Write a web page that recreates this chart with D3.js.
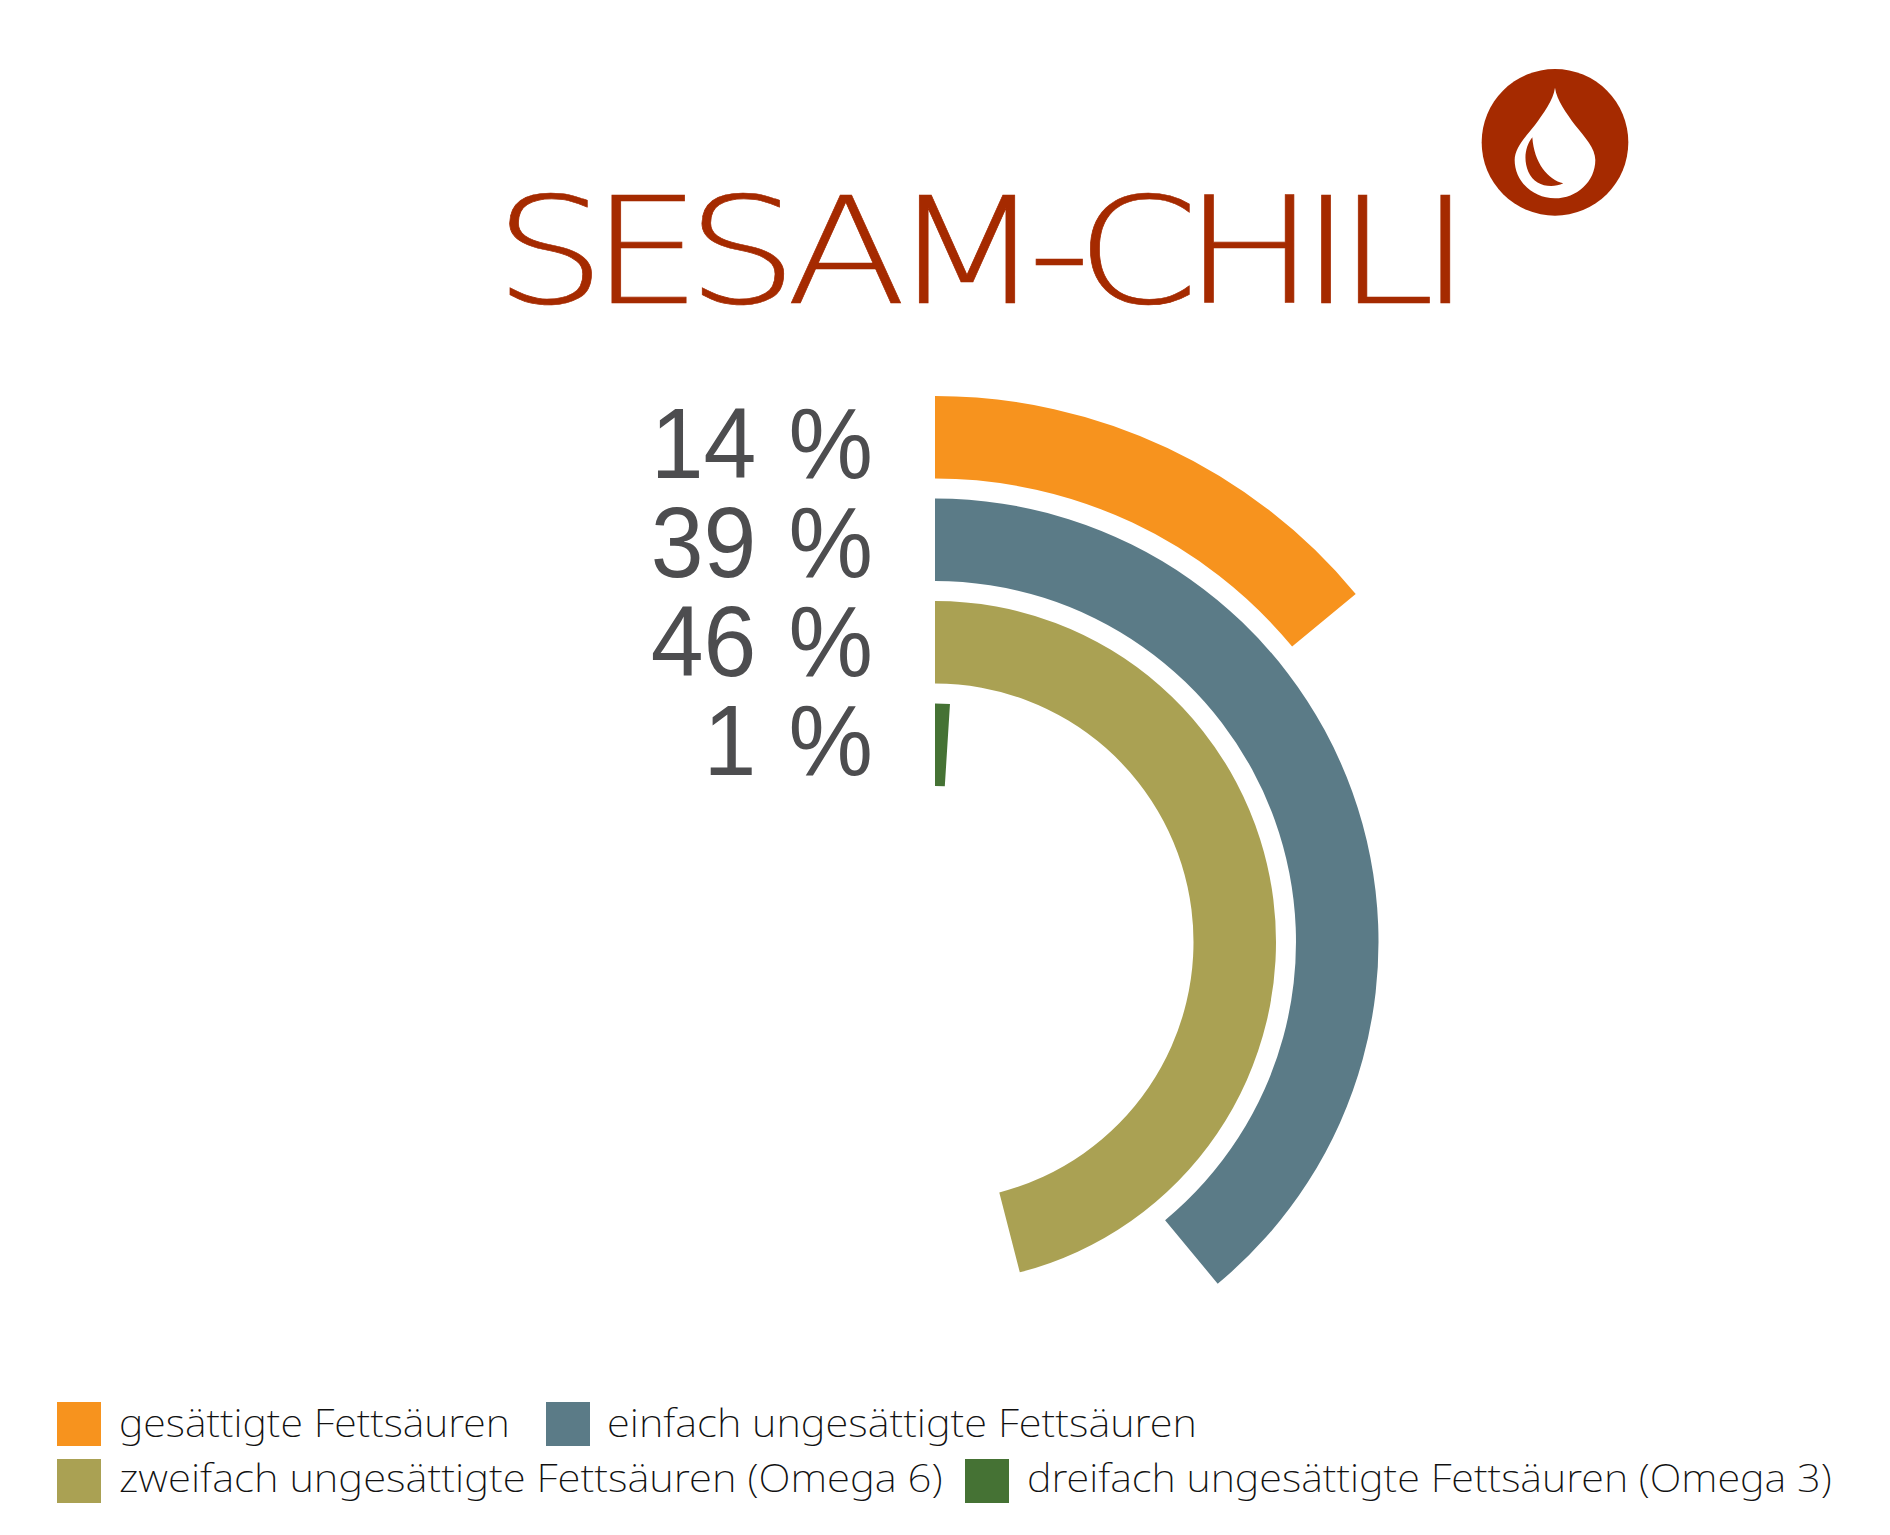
<!DOCTYPE html>
<html>
<head>
<meta charset="utf-8">
<script src="https://cdn.jsdelivr.net/npm/d3@7"></script>
<style>
  html, body { margin: 0; padding: 0; background: #fff; }
  svg { display: block; }
</style>
</head>
<body>
<svg id="chart" width="1890" height="1535"></svg>
<script>
// Fatty acid profile of sesame-chili oil, shares in percent
const categories = [
  "gesättigte Fettsäuren",
  "einfach ungesättigte Fettsäuren",
  "zweifach ungesättigte Fettsäuren (Omega 6)",
  "dreifach ungesättigte Fettsäuren (Omega 3)"
];
const shares = [14, 39, 46, 1];
const colors = ["#f7931e", "#5b7b87", "#aaa153", "#457234"];
const titleText = "SESAM-CHILI";

const svg = d3.select("#chart");
const brand = "#a52a00";
const centre = { x: 935, y: 942 };

const angle = d3.scaleLinear().domain([0, 100]).range([0, 2 * Math.PI]);
const radius = d3.scaleBand()
  .domain(categories.slice().reverse())
  .range([156, 546])
  .paddingInner(0.195);
const arc = d3.arc()
  .startAngle(0)
  .endAngle(i => angle(shares[i]))
  .innerRadius(i => radius(categories[i]))
  .outerRadius(i => radius(categories[i]) + radius.bandwidth());

// Concentric arcs
svg.append("g")
  .attr("transform", `translate(${centre.x},${centre.y})`)
  .selectAll("path")
  .data(d3.range(categories.length))
  .join("path")
  .attr("d", arc)
  .attr("fill", i => colors[i]);

// Percent labels, right aligned in an evenly spaced column beside the arcs
const labelRow = d3.scalePoint().domain(categories).range([478, 775]);
svg.append("g")
  .selectAll("text")
  .data(d3.range(categories.length))
  .join("text")
  .attr("transform", i => `translate(873,${labelRow(categories[i])}) scale(0.95,1)`)
  .attr("text-anchor", "end")
  .attr("font-family", "Liberation Sans")
  .attr("font-size", 100)
  .attr("word-spacing", 6)
  .attr("fill", "#4d4d4f")
  .text(i => `${shares[i]} %`);

// Stretches a text element horizontally to a given width
function fitted(sel, x, width) {
  const natural = sel.node().getComputedTextLength();
  const y = +sel.attr("y");
  sel.attr("x", 0).attr("y", 0)
    .attr("transform", `translate(${x},${y}) scale(${width / natural},1)`);
}

// Title
const title = svg.append("text")
  .attr("y", 303)
  .attr("font-family", "DejaVu Sans")
  .attr("font-weight", 200)
  .attr("font-size", 148)
  .attr("letter-spacing", -13)
  .attr("fill", brand)
  .attr("stroke", brand)
  .attr("stroke-width", 0.6)
  .text(titleText);
fitted(title, 494, 962);

// Oil drop emblem
const emblem = svg.append("g").attr("transform", "translate(1460,50) scale(0.3333)");
emblem.append("circle").attr("cx", 285).attr("cy", 277).attr("r", 220).attr("fill", brand);
emblem.append("path").attr("fill", "#fff")
  .attr("d", "M285,113 C290,150 320,190 345,225 C375,262 406,295 406,330 C406,395 350,445 285,445 C220,445 164,395 164,330 C164,295 195,262 225,225 C250,190 280,150 285,113Z");
emblem.append("path").attr("fill", brand)
  .attr("d", "M217,262 C195,290 190,330 205,365 C222,405 270,418 310,400 C265,390 222,340 217,262Z");

// Legend in two rows
const swatchX = [57, 546, 57, 965];
const swatchY = [1402, 1402, 1459, 1459];
const baselineY = [1437, 1437, 1492, 1492];
const labelX = [119, 607, 119, 1027];
const labelWidth = [391, 590, 824, 805];
const legend = svg.append("g");
categories.forEach((name, i) => {
  legend.append("rect")
    .attr("x", swatchX[i]).attr("y", swatchY[i])
    .attr("width", 44).attr("height", 44)
    .attr("fill", colors[i]);
  const t = legend.append("text")
    .attr("y", baselineY[i])
    .attr("font-family", "Noto Sans")
    .attr("font-weight", 200)
    .attr("font-size", 39)
    .attr("fill", "#111")
    .text(name);
  fitted(t, labelX[i], labelWidth[i]);
});
</script>
</body>
</html>
